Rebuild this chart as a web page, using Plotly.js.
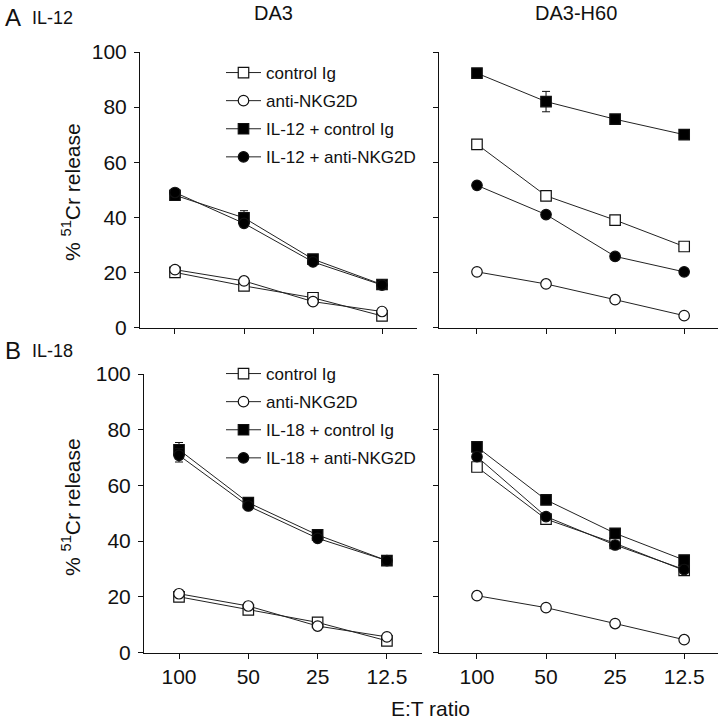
<!DOCTYPE html>
<html><head><meta charset="utf-8">
<script src="https://cdn.plot.ly/plotly-3.0.1.min.js"></script>
<style>html,body{margin:0;padding:0;background:#fff}</style>
</head><body><div id="chart" style="width:720px;height:720px"></div>
<script>
const ratios = ["100", "50", "25", "12.5"];
const namesA = ["control Ig", "anti-NKG2D", "IL-12 + control Ig", "IL-12 + anti-NKG2D"];
const namesB = ["control Ig", "anti-NKG2D", "IL-18 + control Ig", "IL-18 + anti-NKG2D"];
const rowLabels = ["IL-12", "IL-18"];
const colTitles = ["DA3", "DA3-H60"];

// A: IL-12, DA3
const aDa3Ctrl   = [20.0, 15.1, 10.8, 4.2];
const aDa3Anti   = [21.0, 16.9, 9.4, 5.8];
const aDa3IlCtrl = [48.0, 39.8, 24.8, 15.6];
const aDa3IlAnti = [49.0, 37.8, 23.8, 15.4];
const aDa3IlCtrlErr = [0, 2.6, 0, 0];
// A: IL-12, DA3-H60
const aH60Ctrl   = [66.5, 47.8, 39.0, 29.4];
const aH60Anti   = [20.2, 15.8, 10.1, 4.3];
const aH60IlCtrl = [92.3, 82.0, 75.6, 70.0];
const aH60IlAnti = [51.6, 41.0, 25.8, 20.2];
const aH60IlCtrlErr = [0, 3.7, 0, 0];
// B: IL-18, DA3
const bDa3Ctrl   = [20.0, 15.3, 10.8, 4.2];
const bDa3Anti   = [21.1, 16.7, 9.5, 5.6];
const bDa3IlCtrl = [72.8, 53.8, 42.2, 33.0];
const bDa3IlAnti = [70.8, 52.6, 41.0, 33.0];
const bDa3IlCtrlErr = [2.6, 0, 0, 0];
const bDa3IlAntiErr = [2.4, 0, 0, 0];
// B: IL-18, DA3-H60
const bH60Ctrl   = [66.6, 47.9, 39.2, 29.5];
const bH60Anti   = [20.4, 16.1, 10.4, 4.6];
const bH60IlCtrl = [73.8, 54.8, 42.8, 33.2];
const bH60IlAnti = [70.3, 48.8, 38.6, 29.8];

const FONT = "Liberation Sans, Arial, Helvetica, sans-serif";
const INK = "#111";
const styles = [
  {symbol: "square", color: "#fff"},
  {symbol: "circle", color: "#fff"},
  {symbol: "square", color: "#000"},
  {symbol: "circle", color: "#000"}
];

function tr(y, idx, name, xa, ya, legend, show, err) {
  const t = {
    type: "scatter", mode: "lines+markers", x: ratios, y: y, name: name,
    xaxis: xa, yaxis: ya, legend: legend, showlegend: show, legendgroup: legend + idx,
    line: {color: "#222", width: 1},
    marker: {symbol: styles[idx].symbol, color: styles[idx].color, size: 10.5,
             line: {color: INK, width: 1.2}},
    cliponaxis: false, hoverinfo: "skip"
  };
  if (err) t.error_y = {type: "data", array: err, visible: true, color: INK, thickness: 1, width: 4};
  return t;
}

const data = [
  tr(aDa3Ctrl, 0, namesA[0], "x", "y", "legend", true),
  tr(aDa3Anti, 1, namesA[1], "x", "y", "legend", true),
  tr(aDa3IlCtrl, 2, namesA[2], "x", "y", "legend", true, aDa3IlCtrlErr),
  tr(aDa3IlAnti, 3, namesA[3], "x", "y", "legend", true),
  tr(aH60Ctrl, 0, namesA[0], "x2", "y2", "legend", false),
  tr(aH60Anti, 1, namesA[1], "x2", "y2", "legend", false),
  tr(aH60IlCtrl, 2, namesA[2], "x2", "y2", "legend", false, aH60IlCtrlErr),
  tr(aH60IlAnti, 3, namesA[3], "x2", "y2", "legend", false),
  tr(bDa3Ctrl, 0, namesB[0], "x3", "y3", "legend2", true),
  tr(bDa3Anti, 1, namesB[1], "x3", "y3", "legend2", true),
  tr(bDa3IlCtrl, 2, namesB[2], "x3", "y3", "legend2", true, bDa3IlCtrlErr),
  tr(bDa3IlAnti, 3, namesB[3], "x3", "y3", "legend2", true, bDa3IlAntiErr),
  tr(bH60Ctrl, 0, namesB[0], "x4", "y4", "legend2", false),
  tr(bH60Anti, 1, namesB[1], "x4", "y4", "legend2", false),
  tr(bH60IlCtrl, 2, namesB[2], "x4", "y4", "legend2", false),
  tr(bH60IlAnti, 3, namesB[3], "x4", "y4", "legend2", false)
];

const W = 720, H = 720;
const px = v => v / W;
const py = v => 1 - v / H;

function xax(domain, range, anchor, labels) {
  return {domain: domain, range: range, anchor: anchor, type: "category",
    showline: true, linecolor: INK, linewidth: 1, showgrid: false, zeroline: false,
    ticks: "outside", ticklen: 5, tickcolor: INK, tickwidth: 1,
    showticklabels: labels, tickfont: {family: FONT, size: 21, color: INK},
    fixedrange: true};
}
function yax(domain, anchor, labels) {
  return {domain: domain, range: [0, 100], anchor: anchor, dtick: 20, tick0: 0,
    showline: true, linecolor: INK, linewidth: 1, showgrid: false, zeroline: false,
    ticks: "outside", ticklen: 5, tickcolor: INK, tickwidth: 1,
    showticklabels: labels, tickfont: {family: FONT, size: 21, color: INK},
    ticklabelstandoff: 3, fixedrange: true};
}

const yTop = [py(327.5), py(52)];
const yBot = [py(652.5), py(374)];

const legendBase = {
  orientation: "v", xanchor: "left", yanchor: "top", bgcolor: "rgba(0,0,0,0)",
  borderwidth: 0, font: {family: FONT, size: 17, color: INK}, itemwidth: 35,
  tracegroupgap: 3, traceorder: "grouped"
};

const layout = {
  width: W, height: H, margin: {l: 0, r: 0, t: 0, b: 0},
  paper_bgcolor: "#fff", plot_bgcolor: "#fff", showlegend: true,
  font: {family: FONT, color: INK},
  xaxis:  xax([px(140), px(417)], [-0.507, 3.507], "y", false),
  xaxis2: xax([px(439), px(718)], [-0.55, 3.49], "y2", false),
  xaxis3: xax([px(144), px(422)], [-0.505, 3.506], "y3", true),
  xaxis4: xax([px(439), px(718)], [-0.55, 3.49], "y4", true),
  yaxis:  yax(yTop, "x", true),
  yaxis2: yax(yTop, "x2", false),
  yaxis3: yax(yBot, "x3", true),
  yaxis4: yax(yBot, "x4", false),
  legend:  Object.assign({}, legendBase, {x: px(221), y: py(55)}),
  legend2: Object.assign({}, legendBase, {x: px(221), y: py(356)}),
  annotations: [
    {text: "A", x: px(3), y: py(17), xref: "paper", yref: "paper", xanchor: "left", yanchor: "middle", showarrow: false, font: {family: FONT, size: 24, color: INK}},
    {text: rowLabels[0], x: px(30), y: py(18), xref: "paper", yref: "paper", xanchor: "left", yanchor: "middle", showarrow: false, font: {family: FONT, size: 18, color: INK}},
    {text: "B", x: px(3), y: py(350), xref: "paper", yref: "paper", xanchor: "left", yanchor: "middle", showarrow: false, font: {family: FONT, size: 24, color: INK}},
    {text: rowLabels[1], x: px(30), y: py(351), xref: "paper", yref: "paper", xanchor: "left", yanchor: "middle", showarrow: false, font: {family: FONT, size: 18, color: INK}},
    {text: colTitles[0], x: px(273), y: py(13), xref: "paper", yref: "paper", xanchor: "center", yanchor: "middle", showarrow: false, font: {family: FONT, size: 20, color: INK}},
    {text: colTitles[1], x: px(576), y: py(13), xref: "paper", yref: "paper", xanchor: "center", yanchor: "middle", showarrow: false, font: {family: FONT, size: 20, color: INK}},
    {text: "% <sup>51</sup>Cr release", x: px(71), y: py(192), xref: "paper", yref: "paper", xanchor: "center", yanchor: "middle", textangle: -90, showarrow: false, font: {family: FONT, size: 21, color: INK}},
    {text: "% <sup>51</sup>Cr release", x: px(71), y: py(507), xref: "paper", yref: "paper", xanchor: "center", yanchor: "middle", textangle: -90, showarrow: false, font: {family: FONT, size: 21, color: INK}},
    {text: "E:T ratio", x: px(430), y: py(708), xref: "paper", yref: "paper", xanchor: "center", yanchor: "middle", showarrow: false, font: {family: FONT, size: 21, color: INK}}
  ]
};

Plotly.newPlot("chart", data, layout, {staticPlot: true, displayModeBar: false});
</script></body></html>
